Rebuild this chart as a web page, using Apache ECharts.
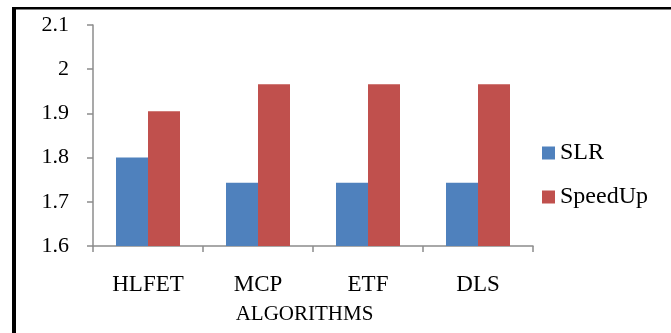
<!DOCTYPE html>
<html>
<head>
<meta charset="utf-8">
<script src="https://cdn.jsdelivr.net/npm/echarts@6/dist/echarts.min.js"></script>
<style>html,body{margin:0;padding:0;background:#fff;}#c{width:671px;height:333px;}</style>
</head>
<body>
<div id="c"></div>
<script>
var categories = ['HLFET', 'MCP', 'ETF', 'DLS'];
var slrValues = [1.8, 1.743, 1.743, 1.743];
var speedUpValues = [1.905, 1.966, 1.966, 1.966];
var seriesNames = ['SLR', 'SpeedUp'];
var axisName = 'ALGORITHMS';

var FONT = "'Liberation Serif', 'Times New Roman', serif";
var chart = echarts.init(document.getElementById('c'), null, {renderer: 'canvas'});
chart.setOption({
  animation: false,
  backgroundColor: '#ffffff',
  color: ['#4F81BD', '#C0504D'],
  graphic: [
    {type: 'rect', shape: {x: 12, y: 7, width: 659, height: 2.5}, style: {fill: '#000'}},
    {type: 'rect', shape: {x: 12, y: 7, width: 4, height: 326}, style: {fill: '#000'}}
  ],
  grid: {left: 93, right: 138, top: 25, bottom: 87, containLabel: false},
  legend: {
    orient: 'vertical', left: 542, top: 141, padding: 0,
    itemWidth: 13, itemHeight: 13, itemGap: 20,
    icon: 'rect',
    textStyle: {fontFamily: FONT, fontSize: 24, color: '#000', lineHeight: 22},
    data: seriesNames
  },
  xAxis: {
    type: 'category',
    data: categories,
    name: axisName,
    nameLocation: 'middle',
    nameGap: 58,
    nameTextStyle: {fontFamily: FONT, fontSize: 21, color: '#000', padding: [0, 17, 0, 0]},
    axisLine: {show: true, lineStyle: {color: '#8c8c8c', width: 1.5}},
    axisTick: {show: true, length: 6, lineStyle: {color: '#8c8c8c', width: 1.5}},
    axisLabel: {fontFamily: FONT, fontSize: 23, color: '#000', margin: 27}
  },
  yAxis: {
    type: 'value',
    min: 1.6, max: 2.1, interval: 0.1,
    axisLine: {show: true, lineStyle: {color: '#8c8c8c', width: 1.5}},
    axisTick: {show: true, length: 6, lineStyle: {color: '#8c8c8c', width: 1.5}},
    splitLine: {show: false},
    axisLabel: {fontFamily: FONT, fontSize: 22, color: '#000', margin: 24}
  },
  series: [
    {name: seriesNames[0], type: 'bar', data: slrValues, barWidth: 32, barGap: '0%'},
    {name: seriesNames[1], type: 'bar', data: speedUpValues, barWidth: 32, barGap: '0%'}
  ]
});
</script>
</body>
</html>
